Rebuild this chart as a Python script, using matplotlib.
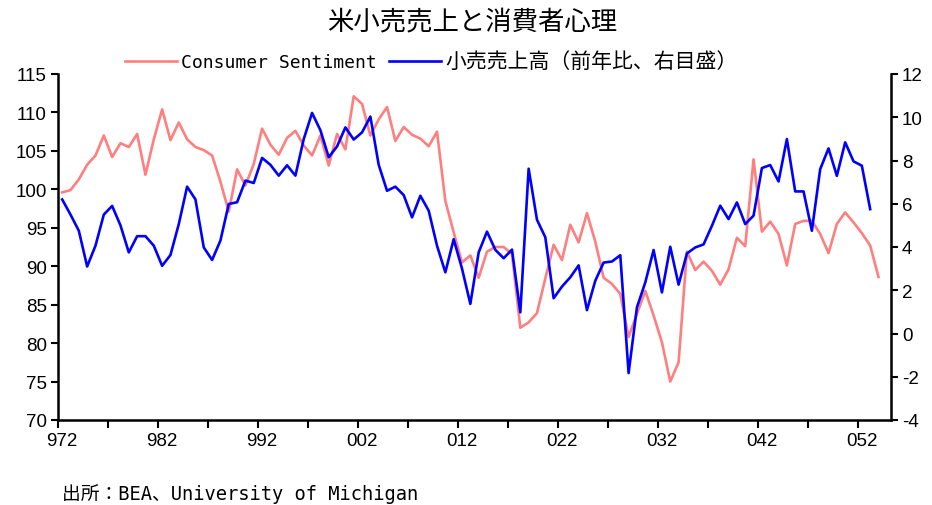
import matplotlib
matplotlib.use("Agg")
import matplotlib.pyplot as plt
from matplotlib.font_manager import FontProperties
import numpy as np

plt.rcParams["axes.unicode_minus"] = False

# Consumer Sentiment (left axis), 99 monthly points
sentiment = [
    99.6, 99.9, 101.3, 103.2, 104.4, 107.0, 104.2, 106.0, 105.5, 107.2,
    101.9, 106.5, 110.4, 106.4, 108.7, 106.5, 105.5, 105.1, 104.4, 101.0,
    97.1, 102.6, 100.5, 103.3, 107.9, 105.8, 104.5, 106.7, 107.6, 105.7,
    104.4, 107.0, 103.1, 107.2, 105.2, 112.1, 111.1, 107.0, 109.1, 110.7,
    106.3, 108.1, 107.1, 106.6, 105.6, 107.5, 98.5, 94.4, 90.5, 91.4,
    88.5, 91.9, 92.5, 92.5, 91.6, 82.0, 82.7, 83.9, 88.4, 92.8,
    90.8, 95.4, 93.1, 96.9, 93.2, 88.5, 87.7, 86.4, 80.8, 83.8,
    86.8, 83.6, 80.1, 75.0, 77.5, 91.9, 89.5, 90.6, 89.4, 87.6,
    89.6, 93.7, 92.6, 103.9, 94.5, 95.8, 94.2, 90.1, 95.5, 95.9,
    95.9, 94.2, 91.7, 95.5, 97.0, 95.7, 94.3, 92.7, 88.6,
]

# retail sales, % y/y (right axis), 98 points
retail = [
    6.2, 5.5, 4.75, 3.1, 4.06, 5.5, 5.9, 5.0, 3.75, 4.5,
    4.5, 4.06, 3.13, 3.63, 5.06, 6.79, 6.2, 3.98, 3.4, 4.3,
    5.99, 6.07, 7.07, 6.96, 8.12, 7.8, 7.3, 7.78, 7.3, 8.99,
    10.2, 9.4, 8.15, 8.65, 9.53, 8.97, 9.3, 10.03, 7.8, 6.6,
    6.79, 6.4, 5.37, 6.37, 5.68, 4.06, 2.83, 4.36, 3.0, 1.37,
    3.75, 4.71, 3.87, 3.48, 3.88, 0.98, 7.62, 5.26, 4.45, 1.63,
    2.17, 2.6, 3.15, 1.08, 2.44, 3.28, 3.33, 3.62, -1.83, 1.21,
    2.36, 3.86, 1.9, 4.01, 2.26, 3.7, 3.98, 4.12, 4.98, 5.91,
    5.29, 6.06, 5.06, 5.45, 7.65, 7.79, 7.03, 8.99, 6.57, 6.57,
    4.75, 7.6, 8.56, 7.29, 8.84, 7.96, 7.76, 5.75,
]

n_slots = 100
x_labels = ["972", "982", "992", "002", "012", "022", "032", "042", "052"]
label_pos = np.arange(0, n_slots, 12)

pink = "#ff7f7f"
blue = "#0000ff"
cjk = ["DejaVu Sans Mono", "Noto Sans CJK JP"]
tick_font = "Liberation Sans"

fig = plt.figure(figsize=(9.32, 5.06), dpi=100)
ax = fig.add_axes([58 / 932, 85 / 506, 833 / 932, 346 / 506])
ax2 = ax.twinx()

l1, = ax.plot(np.arange(len(sentiment)), sentiment, color=pink, lw=1.9)
l2, = ax2.plot(np.arange(len(retail)), retail, color=blue, lw=1.9)

ax.set_xlim(-0.5, n_slots - 0.5)
ax.set_ylim(70, 115)
ax2.set_ylim(-4, 12)
ax.set_yticks(np.arange(70, 116, 5))
ax2.set_yticks(np.arange(-4, 13, 2))

# ticks between categories, labels on the category
ax.set_xticks(np.arange(-0.5, n_slots, 6), minor=True)
ax.set_xticks(label_pos)
ax.set_xticklabels(x_labels)
ax.tick_params(axis="x", which="minor", length=6, width=1.5, direction="out")
ax.tick_params(axis="x", which="major", length=0, pad=9)

ax.tick_params(axis="y", length=5, width=1.5, pad=3)
ax2.tick_params(axis="y", length=5, width=1.5, pad=3)
for lab in ax.get_xticklabels() + ax.get_yticklabels() + ax2.get_yticklabels():
    lab.set_fontfamily(tick_font)
    lab.set_fontsize(13.5)

for a in (ax, ax2):
    a.spines["top"].set_visible(False)
    for s in ("left", "right", "bottom"):
        a.spines[s].set_linewidth(1.8)
ax.spines["right"].set_visible(False)
ax2.spines["left"].set_visible(False)
ax2.spines["bottom"].set_visible(False)

fig.text(472 / 932, 1 - 22 / 506, "米小売売上と消費者心理", ha="center", va="center",
         family=["Noto Sans CJK JP"], fontsize=19)

leg = fig.legend([l1, l2], ["Consumer Sentiment", "小売売上高（前年比、右目盛）"],
                 loc="center", bbox_to_anchor=(431 / 932, 1 - 62 / 506), ncol=2,
                 frameon=False, prop=FontProperties(family=cjk, size=13),
                 handlelength=2.9, handletextpad=0.2, columnspacing=0.7)
leg.get_texts()[1].set_fontsize(15)

fig.text(62 / 932, 1 - 494 / 506, "出所：BEA、University of Michigan", ha="left", va="center",
         family=cjk, fontsize=13.5)

fig.savefig("out.png", dpi=100)
